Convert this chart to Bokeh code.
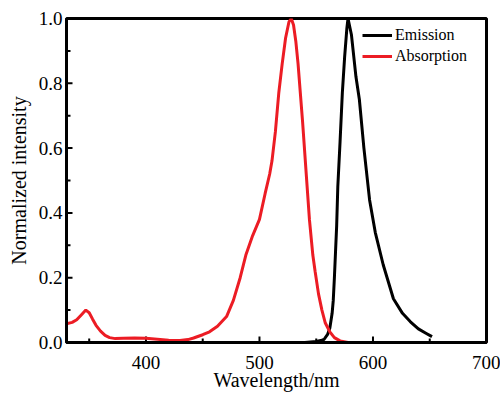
from bokeh.plotting import figure
from bokeh.models import Range1d, Legend, LegendItem, FixedTicker, CustomJSTickFormatter
from bokeh.embed import file_html
from bokeh.resources import INLINE

# Emission spectrum (nm, normalized intensity)
em_x = [540, 550, 555, 557, 560, 562, 564, 565, 566, 567, 568, 569, 571, 573, 575, 577, 578,
        581, 585, 588, 592, 597, 602, 609, 618, 626, 633, 640, 647, 652]
em_y = [0.0, 0.003, 0.007, 0.01, 0.025, 0.045, 0.09, 0.13, 0.2, 0.28, 0.36, 0.48, 0.62, 0.77, 0.88, 0.97, 1.0,
        0.95, 0.82, 0.75, 0.6, 0.44, 0.34, 0.24, 0.135, 0.09, 0.064, 0.042, 0.028, 0.018]

# Absorption spectrum
ab_x = [330, 335, 339, 343, 347, 350, 353, 356, 360, 364, 368, 373, 380, 390, 400, 410, 420, 430,
        437, 442, 450, 456, 463, 471, 477, 483, 488, 494, 500, 505, 509, 511, 514, 517, 520, 523,
        526, 528, 530, 532, 534, 536, 538, 541, 544, 547, 549, 552, 555, 558, 562, 566, 571, 578,
        600, 650, 700]
ab_y = [0.058, 0.062, 0.07, 0.085, 0.1, 0.092, 0.072, 0.053, 0.035, 0.022, 0.015, 0.012, 0.013, 0.014,
        0.013, 0.01, 0.007, 0.006, 0.009, 0.014, 0.024, 0.033, 0.05, 0.08, 0.13, 0.2, 0.27, 0.33, 0.38,
        0.46, 0.52, 0.56, 0.65, 0.77, 0.86, 0.94, 0.99, 1.0, 0.98, 0.93, 0.86, 0.77, 0.68, 0.53, 0.38,
        0.27, 0.22, 0.15, 0.1, 0.06, 0.033, 0.015, 0.005, 0.0, 0.0, 0.0, 0.0]

x_ticks = [400, 500, 600, 700]
x_minor = [350, 450, 550, 650]
y_ticks = [0.0, 0.2, 0.4, 0.6, 0.8, 1.0]
y_minor = [0.1, 0.3, 0.5, 0.7, 0.9]

X0, X1 = 330, 700
Y0, Y1 = 0.0, 1.0
FONT = "Liberation Serif"

p = figure(width=500, height=395, output_backend="svg", toolbar_location=None,
           x_range=Range1d(X0, X1), y_range=Range1d(Y0, Y1),
           min_border_left=66, min_border_right=14, min_border_top=18, min_border_bottom=53)
p.background_fill_color = "white"
p.border_fill_color = "white"
p.grid.visible = False
p.outline_line_color = "black"
p.outline_line_width = 3

for ax in (p.xaxis[0], p.yaxis[0]):
    ax.axis_line_width = 3
    ax.axis_line_color = "black"
    ax.major_tick_in = 0
    ax.major_tick_out = 0
    ax.minor_tick_in = 0
    ax.minor_tick_out = 0
    ax.major_label_text_font = FONT
    ax.major_label_text_font_size = "19px"
    ax.major_label_text_color = "black"
    ax.axis_label_text_font = FONT
    ax.axis_label_text_font_size = "20px"
    ax.axis_label_text_font_style = "normal"
    ax.axis_label_text_color = "black"

p.xaxis[0].ticker = FixedTicker(ticks=x_ticks, minor_ticks=x_minor)
p.yaxis[0].ticker = FixedTicker(ticks=y_ticks, minor_ticks=y_minor)
p.yaxis[0].formatter = CustomJSTickFormatter(code="return tick.toFixed(1);")
p.xaxis.axis_label = "Wavelength/nm"
p.yaxis.axis_label = "Normalized intensity"
p.xaxis.major_label_standoff = 13
p.xaxis.axis_label_standoff = -3
p.yaxis.major_label_standoff = 4
p.yaxis.axis_label_standoff = 6

# inward tick marks, drawn from the tick lists
maj_y_len = 0.0185 * (Y1 - Y0)
min_y_len = 0.0123 * (Y1 - Y0)
maj_x_len = 0.0143 * (X1 - X0)
min_x_len = 0.0095 * (X1 - X0)
p.segment(x0=x_ticks, x1=x_ticks, y0=[Y0] * len(x_ticks), y1=[Y0 + maj_y_len] * len(x_ticks),
          line_color="black", line_width=2)
p.segment(x0=x_minor, x1=x_minor, y0=[Y0] * len(x_minor), y1=[Y0 + min_y_len] * len(x_minor),
          line_color="black", line_width=2)
p.segment(x0=[X0] * len(y_ticks), x1=[X0 + maj_x_len] * len(y_ticks), y0=y_ticks, y1=y_ticks,
          line_color="black", line_width=2)
p.segment(x0=[X0] * len(y_minor), x1=[X0 + min_x_len] * len(y_minor), y0=y_minor, y1=y_minor,
          line_color="black", line_width=2)

r_em = p.line(em_x, em_y, line_color="black", line_width=3)
r_ab = p.line(ab_x, ab_y, line_color="#ec1c24", line_width=3)

legend = Legend(items=[LegendItem(label="Emission", renderers=[r_em]),
                       LegendItem(label="Absorption", renderers=[r_ab])],
                location=(296, 276))
legend.border_line_color = None
legend.background_fill_alpha = 0
legend.padding = 0
legend.margin = 0
legend.spacing = 1
legend.glyph_width = 30
legend.glyph_height = 20
legend.label_height = 20
legend.label_standoff = 3
legend.label_text_font = FONT
legend.label_text_font_size = "16px"
legend.label_text_color = "black"
p.add_layout(legend, "center")

open("out.html", "w").write(file_html(p, INLINE))
